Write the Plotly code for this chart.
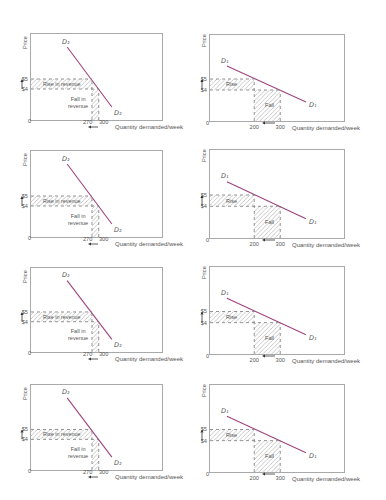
import plotly.graph_objects as go

# ---------------- data ----------------
# Left panels: steep demand curve D2 (inelastic)
d2_quantity = [160, 358]
d2_price = [8.2, 2.2]
# Right panels: flat demand curve D1 (elastic)
d1_quantity = [95, 399]
d1_price = [6.18, 2.9]

old_price, new_price = 4, 5
price_ticks = [4, 5]
price_labels = ["$4", "$5"]

left_q_new, left_q_old = 270, 300
right_q_new, right_q_old = 200, 300
left_q_ticks = [270, 300]
right_q_ticks = [200, 300]

# ---------------- layout geometry ----------------
W, H = 386, 500
tops = {"L": [34, 151, 268, 385], "R": [35, 150, 267, 385]}
bots = {"L": [120, 237, 352, 470], "R": [121, 238, 354, 472]}
xpx = {"L": (31, 162), "R": (210, 344)}
xr = {"L": [0, 580], "R": [30, 545]}
yr = {"L": [0.9, 9.5], "R": [1.18, 9.0]}

GRID = "#a9a9a9"
TXT = "#555555"
CURVE = "#a0437f"
FONT = "Liberation Sans"
ARROW = "#333333"


def px(x):
    return x / W


def py(y):
    return 1 - y / H


fig = go.Figure()
layout = {}
annotations = []
shapes = []


def arrow(tail, head, vertical):
    """arrow in pixel coordinates converted to paper coordinates"""
    (tx, ty), (hx, hy) = tail, head
    if vertical:
        sgn = 1 if ty > hy else -1
        base_y = hy + 3 * sgn
        shapes.append(dict(type="line", xref="paper", yref="paper",
                           x0=px(tx), y0=py(ty), x1=px(hx), y1=py(base_y),
                           line=dict(color=ARROW, width=0.8)))
        path = (f"M {px(hx)},{py(hy)} L {px(hx - 1.6)},{py(base_y)} "
                f"L {px(hx + 1.6)},{py(base_y)} Z")
    else:
        sgn = 1 if tx > hx else -1
        base_x = hx + 3 * sgn
        shapes.append(dict(type="line", xref="paper", yref="paper",
                           x0=px(tx), y0=py(ty), x1=px(base_x), y1=py(hy),
                           line=dict(color=ARROW, width=0.8)))
        path = (f"M {px(hx)},{py(hy)} L {px(base_x)},{py(hy - 1.6)} "
                f"L {px(base_x)},{py(hy + 1.6)} Z")
    shapes.append(dict(type="path", xref="paper", yref="paper", path=path,
                       fillcolor=ARROW, line=dict(width=0)))


for i in range(8):
    row, col = divmod(i, 2)
    side = "L" if col == 0 else "R"
    n = i + 1
    xa = "x" if n == 1 else f"x{n}"
    ya = "y" if n == 1 else f"y{n}"
    xkey = "xaxis" if n == 1 else f"xaxis{n}"
    ykey = "yaxis" if n == 1 else f"yaxis{n}"
    top, bot = tops[side][row], bots[side][row]
    x0p, x1p = xpx[side]

    q_new = left_q_new if side == "L" else right_q_new
    q_old = left_q_old if side == "L" else right_q_old
    q_ticks = left_q_ticks if side == "L" else right_q_ticks
    xmin = xr[side][0]
    ymin = yr[side][0]

    tick_font = dict(size=5.6, color=TXT, family=FONT)
    axis_common = dict(showline=True, mirror=True, linecolor=GRID, linewidth=1,
                       showgrid=False, zeroline=False, ticks="", fixedrange=True,
                       tickfont=tick_font, tickangle=0)
    layout[xkey] = dict(axis_common, domain=[px(x0p), px(x1p)], range=xr[side],
                        anchor=ya, tickvals=q_ticks,
                        ticktext=[str(v) for v in q_ticks], ticklabelstandoff=0,
                        showticklabels=(side == "R"))
    layout[ykey] = dict(axis_common, domain=[py(bot), py(top)], range=yr[side],
                        anchor=xa, tickvals=price_ticks, ticktext=price_labels,
                        ticklabelstandoff=1)

    pat = dict(shape="/", fgcolor="#9a9a9a", bgcolor="white", size=3.0,
               solidity=0.18, fillmode="replace")
    # rise in revenue rectangle
    fig.add_trace(go.Bar(x=[q_new / 2], y=[new_price - old_price], base=[old_price],
                         width=[q_new], xaxis=xa, yaxis=ya, showlegend=False,
                         marker=dict(color="white", pattern=pat, line=dict(width=0)),
                         hoverinfo="skip"))
    # fall in revenue rectangle
    fig.add_trace(go.Bar(x=[(q_new + q_old) / 2], y=[old_price], base=[0],
                         width=[q_old - q_new], xaxis=xa, yaxis=ya, showlegend=False,
                         marker=dict(color="white", pattern=pat, line=dict(width=0)),
                         hoverinfo="skip"))
    # dotted outlines
    dl = dict(color="#7a7a7a", width=0.8, dash="dot")
    for (ax0, ay0, ax1, ay1) in [(xmin, new_price, q_new, new_price),
                                 (xmin, old_price, q_old, old_price),
                                 (q_new, ymin, q_new, new_price),
                                 (q_old, ymin, q_old, old_price)]:
        shapes.append(dict(type="line", xref=xa, yref=ya, x0=ax0, y0=ay0,
                           x1=ax1, y1=ay1, line=dl))
    # demand curve
    qx = d2_quantity if side == "L" else d1_quantity
    qp = d2_price if side == "L" else d1_price
    fig.add_trace(go.Scatter(x=qx, y=qp, mode="lines", xaxis=xa, yaxis=ya,
                             line=dict(color=CURVE, width=1.1), showlegend=False,
                             hoverinfo="skip"))

    lab = "D\u2082" if side == "L" else "D\u2081"
    fs = dict(size=6.5, color=TXT, family="DejaVu Sans", style="italic")
    small = dict(size=5.6, color=TXT, family=FONT)
    if side == "L":
        annotations += [
            dict(x=155, y=8.75, xref=xa, yref=ya, text=lab, showarrow=False, font=fs),
            dict(x=385, y=1.6, xref=xa, yref=ya, text=lab, showarrow=False, font=fs),
            dict(x=q_new / 2, y=4.5, xref=xa, yref=ya, text="Rise in revenue",
                 showarrow=False, font=dict(size=5.4, color=TXT, family=FONT)),
            dict(x=208, y=2.65, xref=xa, yref=ya, text="Fall in<br>revenue",
                 showarrow=False, font=small),
            # quantity tick labels (placed apart as in the original)
            dict(x=px(93.5), y=py(bot + 2), xref="paper", yref="paper",
                 text=str(left_q_ticks[0]), showarrow=False, xanchor="right",
                 yanchor="middle", font=tick_font),
            dict(x=px(96.5), y=py(bot + 2), xref="paper", yref="paper",
                 text=str(left_q_ticks[1]), showarrow=False, xanchor="left",
                 yanchor="middle", font=tick_font),
        ]
        arrow((98, bot + 7), (88, bot + 7), vertical=False)
        varrow_x = 22
        price_pos = (25, top + 8)
        q_pos = (113, bot + 7)
        zero_pos = (x0p - 2, bot + 1)
    else:
        annotations += [
            dict(x=88, y=6.65, xref=xa, yref=ya, text=lab, showarrow=False, font=fs),
            dict(x=424, y=2.62, xref=xa, yref=ya, text=lab, showarrow=False, font=fs),
            dict(x=112, y=4.5, xref=xa, yref=ya, text="Rise",
                 showarrow=False, font=small),
            dict(x=258, y=2.6, xref=xa, yref=ya, text="Fall",
                 showarrow=False, font=small),
        ]
        arrow((275, bot + 2), (262, bot + 2), vertical=False)
        varrow_x = 202
        price_pos = (204, top + 6)
        q_pos = (290, bot + 7)
        zero_pos = (x0p - 3, bot + 2)

    y5 = top + (yr[side][1] - new_price) / (yr[side][1] - yr[side][0]) * (bot - top)
    y4 = top + (yr[side][1] - old_price) / (yr[side][1] - yr[side][0]) * (bot - top)
    arrow((varrow_x, y4), (varrow_x, y5), vertical=True)

    # "0" at origin
    annotations.append(dict(x=px(zero_pos[0]), y=py(zero_pos[1]), xref="paper",
                            yref="paper", text="0", showarrow=False, xanchor="center",
                            yanchor="middle", font=tick_font))
    # axis titles
    annotations.append(dict(x=px(price_pos[0]), y=py(price_pos[1]), xref="paper",
                            yref="paper", text="Price", textangle=-90, showarrow=False,
                            xanchor="center", yanchor="middle", font=tick_font))
    annotations.append(dict(x=px(q_pos[0]), y=py(q_pos[1]), xref="paper", yref="paper",
                            text="Quantity demanded/week", showarrow=False,
                            xanchor="left", yanchor="middle",
                            font=dict(size=6, color=TXT, family=FONT)))

layout.update(dict(width=W, height=H, margin=dict(l=0, r=0, t=0, b=0),
                   paper_bgcolor="white", plot_bgcolor="white", barmode="overlay",
                   showlegend=False, annotations=annotations, shapes=shapes,
                   font=dict(family=FONT, color=TXT)))
fig.update_layout(**layout)
fig.write_html("out.html", config={"displayModeBar": False},
               post_script="document.body.style.margin='0';"
                           "document.documentElement.style.margin='0';")
